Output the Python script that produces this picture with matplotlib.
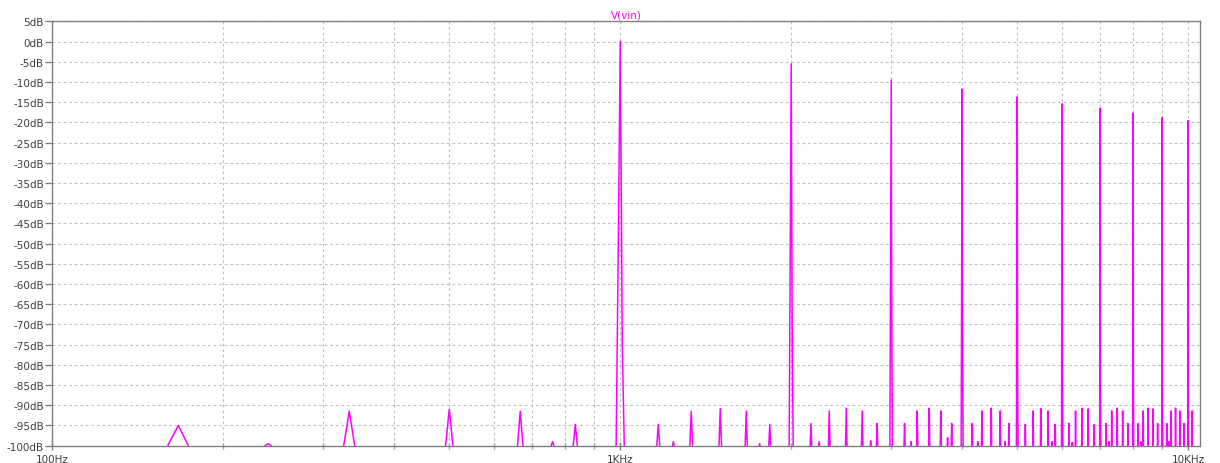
import numpy as np
import matplotlib.pyplot as plt
from matplotlib.ticker import FixedLocator, NullFormatter

# harmonics of the 1 kHz tone (peak, bin to the left, bin to the right)
harm_f = [1000, 2000, 3000, 4000, 5000, 6000, 7000, 8000, 9000, 10000]
harm_db = [0.0, -5.5, -9.5, -11.8, -13.7, -15.4, -16.5, -17.7, -18.8, -19.6]
harm_left_db = [-52.9, -53.0, -54.7, -56.0, -56.9, -57.6, -58.5, -59.0, -59.5, -60.0]
harm_right_db = [-75.0, -76.0, -78.0, -80.0, -81.0, -82.0, -83.0, -84.0, -85.0, -86.0]

# small spurs at multiples of 1kHz/6
spur_n = [1, 2, 3, 4, 5,
          7, 8, 9, 10, 11,
          13, 14, 15, 16, 17,
          19, 20, 21, 22, 23,
          25, 26, 27, 28, 29,
          31, 32, 33, 34, 35,
          37, 38, 39, 40, 41,
          43, 44, 45, 46, 47,
          49, 50, 51, 52, 53,
          55, 56, 57, 58, 59,
          61]
spur_db = [-95.0, -91.5, -91.0, -91.5, -94.7,
           -94.7, -91.5, -90.8, -91.5, -94.7,
           -94.5, -91.4, -90.7, -91.4, -94.5,
           -94.5, -91.4, -90.7, -91.4, -94.5,
           -94.5, -91.4, -90.7, -91.4, -94.5,
           -94.7, -91.4, -90.8, -91.4, -94.7,
           -94.5, -91.4, -90.7, -90.9, -94.8,
           -94.5, -91.4, -90.7, -91.4, -94.5,
           -94.5, -91.4, -90.7, -90.9, -94.5,
           -94.5, -91.4, -90.7, -91.4, -94.5,
           -91.4]

# tiny blips just above the floor
blip_f = [240, 760, 1240, 1760, 2240, 2760, 3250, 3770, 4260, 4760, 5760, 6250, 7250, 8250, 9250]
blip_db = [-99.5, -99.0, -99.0, -99.5, -99.0, -98.8, -99.0, -98.0, -99.0, -99.0, -99.0, -99.2, -99.0, -99.0, -99.0]

df = 1000 / 120.0
floor = -101.0

pts = []
for f, p, l, r in zip(harm_f, harm_db, harm_left_db, harm_right_db):
    pts += [(f - 2 * df, floor), (f - df, l), (f, p), (f + df, r), (f + 2 * df, floor)]
for n, p in zip(spur_n, spur_db):
    f = n * 1000 / 6.0
    pts += [(f - df, floor), (f, p), (f + df, floor)]
for f, p in zip(blip_f, blip_db):
    pts += [(f - df, floor), (f, p), (f + df, floor)]
pts.sort()
freq = np.array([a for a, b in pts])
db = np.array([b for a, b in pts])

fig = plt.figure(figsize=(12.2, 4.64), dpi=100)
ax = fig.add_axes([52.3 / 1220, 1 - 446.7 / 464, (1200 - 52.3) / 1220, (446.7 - 22.3) / 464])

ax.plot(freq, db, color='#ff00ff', lw=1.1)

ax.set_xscale('log')
ax.set_xlim(100, 10490)
ax.set_ylim(-100, 5)

yt = list(range(-100, 6, 5))
ax.set_yticks(yt)
ax.set_yticklabels([f"{v}dB" for v in yt])
ax.xaxis.set_major_locator(FixedLocator([100, 1000, 10000]))
ax.set_xticklabels(["100Hz", "1KHz", "10KHz"])
minors = [m * d for d in (100, 1000) for m in range(2, 10)]
ax.xaxis.set_minor_locator(FixedLocator(minors))
ax.xaxis.set_minor_formatter(NullFormatter())

gs = dict(color='#c0c0c0', linestyle=(0, (2.5, 2.5)), linewidth=0.8)
ax.grid(True, which='major', axis='both', **gs)
ax.grid(True, which='minor', axis='x', **gs)

ax.tick_params(axis='y', direction='out', length=5, width=1, color='#808080',
               labelsize=7.5, labelcolor='#404040', pad=1)
ax.tick_params(axis='x', which='major', direction='inout', length=6, width=1, color='#808080',
               labelsize=7.5, labelcolor='#404040', pad=3)
ax.tick_params(axis='x', which='minor', direction='inout', length=4, width=1, color='#a0a0a0')

for s in ax.spines.values():
    s.set_color('#808080')
    s.set_linewidth(1.0)

ax.set_title("V(vin)", color='#ff00ff', fontsize=7.5, pad=3)

fig.savefig("out.png", dpi=100)
